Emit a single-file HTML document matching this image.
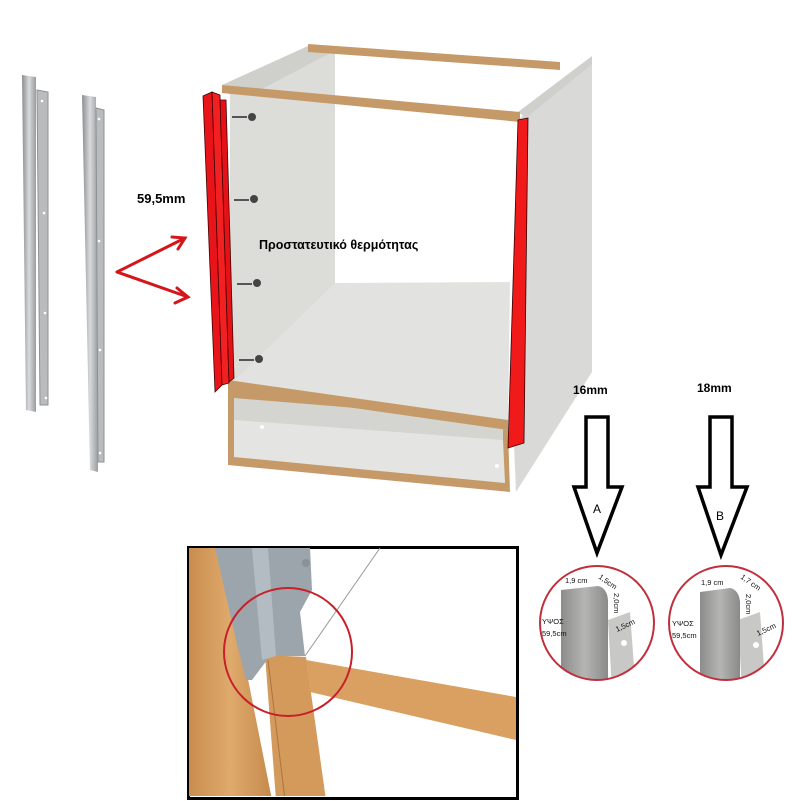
<!DOCTYPE html>
<html><head><meta charset="utf-8"><style>
html,body{margin:0;padding:0;background:#fff;}
svg{display:block;}
text{font-family:"Liberation Sans","DejaVu Sans",sans-serif;}
</style></head><body>
<svg width="806" height="801" viewBox="0 0 806 801" xmlns="http://www.w3.org/2000/svg">
<defs>
<linearGradient id="metal" x1="0" x2="1"><stop offset="0" stop-color="#8a8d90"/><stop offset="0.5" stop-color="#d8dadc"/><stop offset="1" stop-color="#9a9c9e"/></linearGradient>
<linearGradient id="wood" x1="0" x2="1"><stop offset="0" stop-color="#c98d4e"/><stop offset="0.5" stop-color="#dfaa6c"/><stop offset="1" stop-color="#c58a4c"/></linearGradient>
<linearGradient id="prof" x1="0" x2="1"><stop offset="0" stop-color="#8c8c8c"/><stop offset="0.5" stop-color="#b5b5b3"/><stop offset="1" stop-color="#8a8a88"/></linearGradient>
<clipPath id="cA"><circle cx="597" cy="623" r="57"/></clipPath>
<clipPath id="cB"><circle cx="726" cy="623" r="57"/></clipPath>
<clipPath id="box"><rect x="189" y="548" width="327" height="248"/></clipPath>
</defs>

<!-- rails -->
<polygon points="22,75 36,77 36,412 26,410" fill="url(#metal)"/>
<polygon points="37,90 48,92 48,405 40,405" fill="#b9bbbd" stroke="#8e9092" stroke-width="1"/>
<polygon points="82,95 96,97 98,472 90,470" fill="url(#metal)"/>
<polygon points="96,108 104,110 104,462 98,462" fill="#b9bbbd" stroke="#8e9092" stroke-width="1"/>
<g fill="#fff"><circle cx="42" cy="101" r="1.3"/><circle cx="44" cy="213" r="1.3"/><circle cx="45" cy="313" r="1.3"/><circle cx="46" cy="398" r="1.3"/>
<circle cx="99" cy="119" r="1.3"/><circle cx="99" cy="241" r="1.3"/><circle cx="100" cy="350" r="1.3"/><circle cx="100" cy="453" r="1.3"/></g>

<!-- red arrows -->
<g stroke="#d4161a" stroke-width="3" fill="none" stroke-linecap="round">
<path d="M117,272 L185,238 M172,237 L185,238 L178,249"/>
<path d="M117,272 L188,297 M177,288 L188,297 L175,303"/>
</g>
<text x="137" y="203" font-size="13" font-weight="bold">59,5mm</text>

<!-- cabinet -->
<polygon points="520,118 592,58 592,372 516,492 514,445" fill="#d9d9d7"/>
<polygon points="222,88 308,46 335,50 335,285 230,385 230,95" fill="#dcdcd9"/>
<polygon points="335,283 510,282 508,430 230,385" fill="#e2e3e0"/>
<!-- left top surface -->
<polygon points="222,85 308,46 336,50 262,89" fill="#cfcfcc"/>
<!-- right top edge -->
<polygon points="518,112 592,56 592,64 526,118" fill="#cfcfcc"/>
<!-- top board back -->
<polygon points="308,44 560,62 560,70 308,52" fill="#c59a68"/>
<!-- top front board -->
<polygon points="222,85 520,112 520,122 222,93" fill="#c59a68"/>
<!-- plinth -->
<polygon points="228,388 508,430 510,492 228,465" fill="#c59a68"/>
<polygon points="234,398 503,440 505,483 234,457" fill="#e4e4e2"/>
<polygon points="234,398 503,420 503,440 234,420" fill="#d4d4d1"/>
<polygon points="228,380 508,420 508,430 228,390" fill="#c59a68"/>
<circle cx="262" cy="427" r="2" fill="#fff"/><circle cx="497" cy="466" r="2" fill="#fff"/>
<!-- left red strips -->
<polygon points="203,96 212,92 222,385 215,392" fill="#e8141a" stroke="#400" stroke-width="0.8"/>
<polygon points="212,92 220,95 229,383 222,385" fill="#f22020" stroke="#400" stroke-width="0.8"/>
<polygon points="220,100 226,100 234,378 229,382" fill="#e21216" stroke="#400" stroke-width="0.8"/>
<!-- right red strip -->
<polygon points="518,120 528,118 524,443 508,448" fill="#f01a1a" stroke="#300" stroke-width="0.8"/>
<!-- screws -->
<g fill="#444"><circle cx="252" cy="117" r="4"/><circle cx="254" cy="199" r="4"/><circle cx="257" cy="283" r="4"/><circle cx="259" cy="359" r="4"/></g>
<g stroke="#555" stroke-width="2"><line x1="232" y1="117" x2="247" y2="117"/><line x1="234" y1="200" x2="249" y2="200"/><line x1="237" y1="284" x2="252" y2="284"/><line x1="239" y1="360" x2="254" y2="360"/></g>
<text x="259" y="249" font-size="12.5" font-weight="bold">Προστατευτικό θερμότητας</text>

<!-- down arrows -->
<text x="573" y="394" font-size="12" font-weight="bold">16mm</text>
<text x="697" y="392" font-size="12" font-weight="bold">18mm</text>
<polygon points="586,417 608,417 608,487 622,487 597,553 574,487 586,487" fill="#fff" stroke="#000" stroke-width="3.5"/>
<polygon points="710,417 732,417 732,487 747,487 721,555 698,487 710,487" fill="#fff" stroke="#000" stroke-width="3.5"/>
<text x="593" y="513" font-size="12">A</text>
<text x="716" y="520" font-size="12">B</text>

<!-- profile circles -->
<g clip-path="url(#cA)">
<rect x="538" y="565" width="120" height="120" fill="#fff"/>
<polygon points="608,620 630,612 635,680 612,690" fill="#c8c8c6"/>
<path d="M561,590 L598,586 Q607,588 608,600 L608,690 L561,690 Z" fill="url(#prof)"/>
<circle cx="624" cy="643" r="3" fill="#fff"/>
</g>
<circle cx="597" cy="623" r="57" fill="none" stroke="#c0303c" stroke-width="2"/>
<g font-size="7.5" fill="#111"><text x="565" y="583">1,9 cm</text><text x="598" y="578" transform="rotate(35 598 578)">1,5cm</text><text x="614" y="593" transform="rotate(90 614 593)">2,0cm</text><text x="617" y="632" transform="rotate(-25 617 632)">1,5cm</text><text x="542" y="624">ΥΨΟΣ</text><text x="542" y="636">59,5cm</text></g>

<g clip-path="url(#cB)">
<rect x="667" y="565" width="120" height="120" fill="#fff"/>
<polygon points="738,620 760,612 765,680 742,690" fill="#c8c8c6"/>
<path d="M700,592 L730,588 Q739,590 740,602 L740,690 L700,690 Z" fill="url(#prof)"/>
<circle cx="756" cy="645" r="3" fill="#fff"/>
</g>
<circle cx="726" cy="623" r="57" fill="none" stroke="#c0303c" stroke-width="2"/>
<g font-size="7.5" fill="#111"><text x="701" y="585">1,9 cm</text><text x="740" y="578" transform="rotate(35 740 578)">1,7 cm</text><text x="746" y="594" transform="rotate(90 746 594)">2,0cm</text><text x="758" y="636" transform="rotate(-25 758 636)">1,5cm</text><text x="672" y="626">ΥΨΟΣ</text><text x="672" y="638">59,5cm</text></g>

<!-- bottom detail photo -->
<rect x="188.5" y="547.5" width="329" height="251" fill="#fff" stroke="#000" stroke-width="3"/>
<g clip-path="url(#box)">
<polygon points="189,548 222,548 272,800 189,800" fill="url(#wood)"/>
<polygon points="265,655 306,657 326,800 276,800" fill="#d39a5c"/>
<line x1="268" y1="660" x2="285" y2="800" stroke="#a8743f" stroke-width="1"/>
<polygon points="306,660 516,697 516,740 310,692" fill="#d9a062"/>
<line x1="380" y1="548" x2="305" y2="656" stroke="#999" stroke-width="1"/>
<polygon points="215,548 310,548 312,590 300,612 305,656 270,656 252,680 246,680 236,640" fill="#9ca4ac"/>
<polygon points="252,548 268,548 276,656 262,660" fill="#b4bcc3"/>
<circle cx="306" cy="563" r="4" fill="#8a9299"/>
</g>
<circle cx="288" cy="652" r="64" fill="none" stroke="#c8202a" stroke-width="2"/>
</svg>
</body></html>
